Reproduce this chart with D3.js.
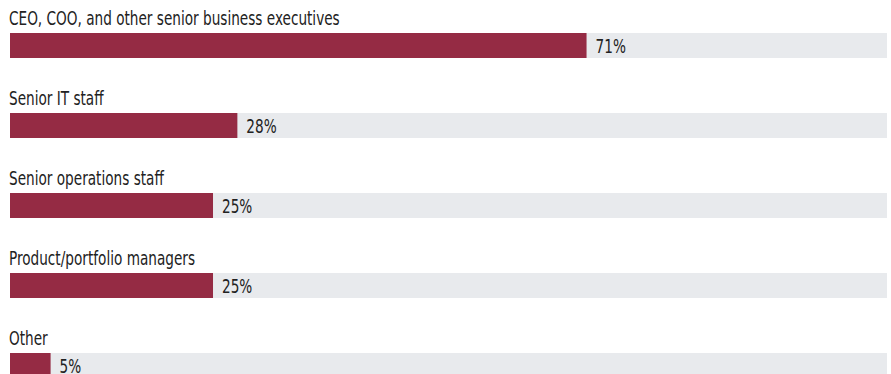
<!DOCTYPE html>
<html>
<head>
<meta charset="utf-8">
<script src="https://cdn.jsdelivr.net/npm/d3@7"></script>
<style>
  html, body { margin: 0; padding: 0; background: #fff; }
  svg { display: block; }
  text { font-family: "DejaVu Sans Condensed", "DejaVu Sans", sans-serif; fill: #222; }
</style>
</head>
<body>
<svg id="chart" width="891" height="374"></svg>
<script>
const categories = [
  "CEO, COO, and other senior business executives",
  "Senior IT staff",
  "Senior operations staff",
  "Product/portfolio managers",
  "Other"
];
const values = [71, 28, 25, 25, 5];
const valueLabels = values.map(v => v + "%");

const width = 891, height = 374;
const left = 10, right = 887;
const rowStep = 80, firstTrack = 33, barH = 25;
const labelWidth = 331; // rendered width of the longest category label

const svg = d3.select("#chart");

const x = d3.scaleLinear().domain([0, 108]).range([left, right]);
const y = d3.scaleBand()
  .domain(categories)
  .range([firstTrack, firstTrack + rowStep * categories.length])
  .paddingInner(0).paddingOuter(0);

const rows = svg.selectAll("g.row")
  .data(categories.map((c, i) => ({ c, v: values[i], lab: valueLabels[i] })))
  .join("g")
  .attr("class", "row")
  .attr("transform", d => `translate(0,${y(d.c)})`);

// background track
rows.append("rect")
  .attr("x", x(0)).attr("y", 0)
  .attr("width", x.range()[1] - x(0))
  .attr("height", barH)
  .attr("fill", "#e8eaed");

// value bar
rows.append("rect")
  .attr("x", x(0)).attr("y", 0)
  .attr("width", d => x(d.v) - x(0))
  .attr("height", barH)
  .attr("fill", "#952b44");

// category label above each bar (condensed horizontally)
const catText = rows.append("text")
  .attr("font-size", 20)
  .text(d => d.c);

const longest = d3.max(catText.nodes(), n => n.getComputedTextLength());
const squeeze = labelWidth / longest;

catText.attr("transform", `translate(${x(0) - 1},-8) scale(${squeeze},1)`);

// value label to the right of each bar
rows.append("text")
  .attr("font-size", 20)
  .attr("transform", d => `translate(${x(d.v) + 9},20) scale(${squeeze},1)`)
  .text(d => d.lab);
</script>
</body>
</html>
